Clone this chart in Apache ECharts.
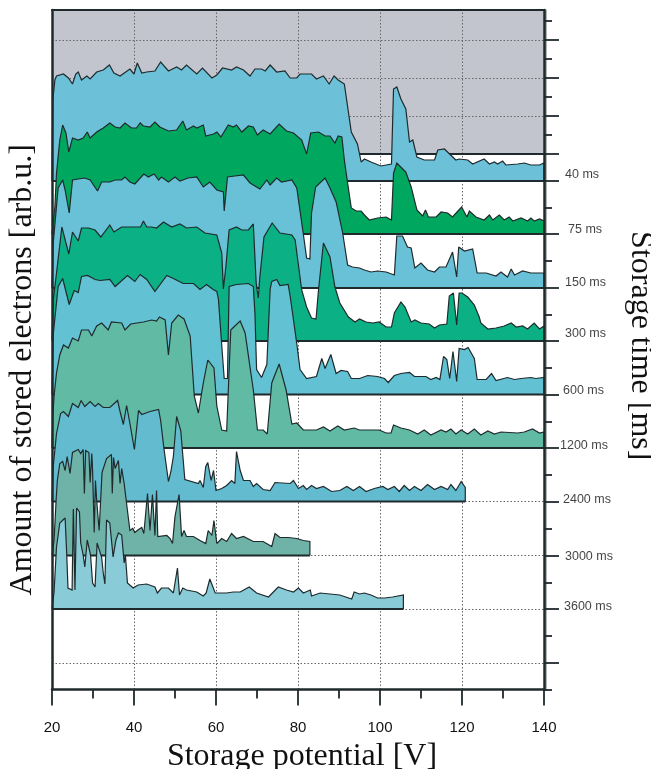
<!DOCTYPE html>
<html><head><meta charset="utf-8">
<style>html,body{margin:0;padding:0;background:#fff}#c{width:651px;height:769px}</style>
<script src="https://cdn.jsdelivr.net/npm/echarts@6/dist/echarts.min.js"></script>
</head><body><div id="c"></div>
<script>
const storageTimes=['40 ms','75 ms','150 ms','300 ms','600 ms','1200 ms','2400 ms','3000 ms','3600 ms'];
const baselines=[508.5,455.5,401.5,348.5,295,241.5,188,134,80.5];
const topOfBackground=535.5;
const majorTicks=[26.5,80.5,134,188,241.5,295,348.5,401.5,455.5,508.5,535.5,573.5,611.5,649.5];
const minorTicks=[0,53.5,107,161,214.5,268,321.5,375,428.5,482,554.5,592.5,630.5,668.5];
const gridY=[26.5,80.5,134,188,573.5,611.5,649.5];
const gridX=[40,60,80,100,120];

const s40=[[20,0],[20.2,81],[20.7,101],[21.1,105],[22.8,107],[24,103],[25,97],[25.8,107],[26.4,109],[27.2,101],[28.5,105],[29.3,102],[30.9,109],[32.5,111],[34,116],[35.1,108],[36.6,105],[39,112],[40,107],[40.8,118],[41.9,108],[43.1,109],[45.1,110],[46.5,119],[48.4,110],[50.4,114],[51.6,111],[52.8,116],[55.3,107],[56.7,113],[59,103],[60.2,106],[61.6,113],[63.8,111],[65,114],[66.7,111],[68.3,105],[69.5,112],[71.1,112],[72,110],[73.2,116],[74.8,109],[76.8,110],[78.1,103],[79.7,103],[80.5,107],[82.1,107],[83.3,107],[84.5,102],[86.2,105],[87.6,97],[88.8,105],[89.8,101],[91.3,97],[93,49],[94.5,37],[95.4,19],[96.2,22],[97.8,19],[100.2,15],[102.8,17],[103.3,92],[104.1,94],[105.1,82],[106.3,72],[107.2,39],[108,41],[109,24],[110.8,21],[113.3,21],[114.1,31],[115.7,32],[118.5,21],[119.3,22],[121.4,21],[122.6,17],[125.4,22],[126.7,17],[127.9,19],[128.7,17],[129.9,20],[130.7,16],[133.6,17],[135.2,18],[136.8,16],[138.9,16],[140,18],[140,0]];
const s75=[[20,0],[20.7,27],[21.1,61],[21.9,94],[22.6,109],[23.4,101],[24.1,82],[25,96],[26.4,94],[27.6,96],[28.6,102],[29.3,96],[30.9,102],[32.5,106],[34.1,111],[35.4,107],[36.6,106],[37.8,111],[39.4,106],[40.6,106],[41.5,111],[42.3,108],[43.9,107],[45.1,112],[46.3,107],[48.4,103],[50.4,104],[51.9,113],[52.8,104],[54.5,108],[55.3,106],[56.9,109],[57.5,98],[59.4,100],[60.2,102],[61.2,97],[63,109],[64.2,107],[65,109],[66.3,102],[67.9,108],[69.1,107],[70.1,99],[71.5,104],[73.2,100],[75.4,110],[77.2,103],[78.9,101],[80.9,94],[82.1,80],[83.1,101],[85,102],[86.6,98],[87.8,98],[89,91],[89.8,98],[90.7,97],[91.3,74],[92.1,51],[93,26],[94.2,23],[95.4,23],[96.2,19],[97.4,14],[99.4,16],[101.5,17],[102.8,14],[103.3,61],[104.1,71],[105.3,66],[106.3,62],[106.7,64],[107.6,47],[109,24],[110.4,18],[111.1,24],[111.8,17],[113.7,17],[114.9,22],[116.5,21],[117.7,17],[118.8,22],[119.9,27],[121.2,17],[121.8,23],[123.4,17],[125.4,14],[126.7,19],[127.5,14],[129.1,19],[130.3,14],[131.5,17],[132.4,13],[134.4,16],[136,13],[136.8,16],[137.6,13],[138.9,15],[140,13],[140,0]];
const s150=[[20,0],[20.3,45],[21.5,100],[22.6,108],[23.2,98],[24.2,75],[25,108],[26.4,109],[28,110],[29.3,108],[31.1,97],[32.1,106],[34.1,106],[35.4,108],[37,108],[37.8,111],[39,106],[40.2,104],[42.4,114],[43.5,111],[44.9,114],[46,108],[46.7,111],[48.4,106],[50,111],[51.2,107],[53.2,110],[55.3,111],[56.9,101],[58.5,106],[60.2,98],[61.8,96],[62,77],[62.8,111],[64.6,112],[66.7,113],[68.3,105],[70.7,99],[72.4,108],[73.2,103],[74.8,110],[76,106],[78.5,108],[79.7,100],[80.1,98],[81.3,54],[82.1,30],[82.9,29],[83.3,75],[84.3,101],[86.6,110],[87.8,100],[89.3,86],[90.9,55],[92.1,23],[93.3,21],[95,20],[96.2,18],[97.8,16],[99.4,17],[101.5,16],[103.5,13],[104.1,52],[105.5,52],[106.7,41],[107.6,40],[108.5,20],[110,25],[111.6,18],[113.3,16],[114.5,21],[116.1,21],[117.7,36],[118.7,11],[119.2,41],[120.6,37],[122.6,39],[123.7,15],[125.9,15],[128.3,12],[129.5,16],[131.1,11],[132,19],[132.8,13],[134.8,17],[136.8,15],[138.9,15],[140,15],[140,0]];
const s300=[[20,0],[20.3,41],[21.1,68],[22.4,114],[24.1,87],[25,109],[26.4,100],[27.2,113],[28.9,113],[30.5,111],[31.9,104],[34.1,116],[35.1,109],[37,114],[38.6,114],[40.2,114],[41.6,114],[42.3,120],[43.1,114],[44.3,114],[45.5,113],[47.2,119],[49.2,114],[51.2,117],[52.8,113],[55.3,114],[57.3,108],[60.2,106],[61.4,88],[61.8,52],[62.4,74],[63.2,111],[65,114],[66.3,111],[67.9,111],[69.1,117],[69.8,58],[70.3,43],[70.7,64],[71.7,104],[73.7,118],[75.6,108],[78.5,106],[79.3,101],[80.9,51],[82.1,34],[83.3,23],[84.4,22],[85,51],[86.2,98],[87.8,84],[89,54],[90.2,38],[92.3,24],[93.9,19],[95,22],[96.6,19],[98.2,18],[99.8,19],[101.5,14],[102.8,14],[103.5,28],[105.1,39],[106.1,34],[107.6,19],[108.5,21],[110,18],[112,17],[113.3,13],[114.5,16],[116.3,17],[116.9,45],[117.9,48],[118.7,16],[119.3,48],[120,48],[121.4,44],[123,36],[124.2,24],[124.6,18],[126.3,12],[128.3,13],[130.3,15],[132,18],[133.2,14],[134.8,15],[136,12],[137.6,18],[138.9,12],[140,15],[140,0]];
const s600=[[20,0],[20.3,60],[21.5,108],[22.6,116],[24.2,90],[25.4,104],[26.4,102],[27.2,118],[28.7,119],[30.5,115],[31.7,114],[34.1,115],[35.4,108],[38.4,119],[40.2,113],[41.5,120],[43.1,115],[45.1,103],[48,119],[49.6,116],[52,111],[54.5,111],[56.1,105],[57.7,110],[59.3,105],[60.2,103],[60.6,95],[61.6,38],[62,16],[62.8,16],[63.2,108],[65,110],[67.9,111],[69.1,108],[69.5,81],[69.9,25],[71.1,17],[72.4,30],[73.2,105],[73.6,113],[74.8,115],[75.6,109],[77.6,110],[78.1,98],[79.7,51],[80.5,25],[82.1,16],[84.5,18],[85.8,36],[86.6,26],[88,40],[89.3,21],[90.5,24],[92.1,23],[93,16],[95,16],[97,19],[99.4,18],[101.1,16],[102,12],[103.5,19],[105.1,21],[107.2,22],[108.4,18],[111.2,18],[112.4,15],[113.7,17],[114.6,15],[115.5,38],[116.3,35],[117,16],[117.8,43],[118.7,13],[119.3,46],[120.6,45],[121.5,47],[123,36],[123.7,15],[125.9,15],[127.2,21],[128.3,14],[131.1,17],[132.8,15],[134.4,16],[136.8,17],[138,16],[140,17],[140,0]];
const s1200=[[20,0],[20.2,32],[20.5,52],[21.1,75],[21.9,93],[22.8,103],[24,100],[25,110],[26.4,107],[27.2,118],[28.9,118],[29.7,112],[30.9,122],[32.1,125],[33.7,118],[34.5,126],[37,125],[37.8,118],[39.2,124],[42.3,126],[44.3,128],[45.5,127],[46.2,131],[47.6,128],[48.4,93],[49.2,125],[50.8,133],[52.2,129],[53.7,112],[54.7,52],[55.7,35],[56.9,65],[58,88],[59.5,80],[60.2,42],[61.4,18],[62.6,17],[63.6,118],[64.6,122],[65.9,127],[67.1,115],[69.1,58],[70.1,18],[71.5,18],[72.5,14],[73.6,65],[75.4,84],[77.1,58],[78.5,24],[79.7,25],[81.3,18],[84.5,18],[86.2,21],[87.8,17],[89.7,22],[91.3,18],[93.7,20],[95,18],[98.2,18],[99.8,18],[101.5,15],[102.7,15],[103.3,23],[105.1,20],[107.2,18],[109.2,14],[110.8,18],[112.4,13],[114.9,18],[116.1,16],[117.3,19],[118.5,14],[119.8,18],[121.4,14],[123,19],[124.6,13],[126.3,17],[127.9,14],[129.5,16],[133.6,15],[135.2,16],[137.2,19],[138.9,15],[140,16],[140,0]];
const s2400=[[20,0],[20.3,35],[21.1,68],[22.1,88],[22.8,90],[24,85],[25,98],[26.4,94],[27.1,101],[28,95],[29.3,100],[30.5,95],[31.3,98],[32.5,94],[34.1,94],[36,101],[36.6,90],[37.4,77],[38.2,96],[39,78],[40.1,52],[41.1,91],[41.9,87],[43.9,90],[46,92],[46.5,81],[47.3,53],[48.4,20],[49,30],[49.6,45],[50.4,85],[51.4,71],[52.4,22],[55.7,18],[56.1,21],[56.9,14],[57.5,35],[58,39],[58.8,21],[59.4,31],[60,11],[61.4,13],[62.6,16],[63.8,21],[64.6,18],[65,50],[65.9,31],[66.7,21],[68.3,21],[69.1,15],[69.9,18],[71.5,12],[73.2,11],[74.4,19],[78.1,18],[78.9,21],[80.1,13],[81.3,16],[82.1,12],[83.3,16],[84.5,13],[86.2,15],[88.2,10],[90.2,11],[91.9,15],[93.5,11],[95,15],[96.6,10],[98.6,13],[100.7,15],[101.9,12],[103.5,15],[104.7,10],[105.9,16],[107.2,11],[108.4,15],[110,11],[111.6,17],[113.3,12],[114.9,15],[116.5,12],[117.3,17],[118.5,11],[119.8,20],[120.8,14],[120.8,0]];
const s3000=[[20,0],[20.5,15],[21,55],[21.3,75],[21.9,92],[22.6,94],[23.2,85],[23.7,99],[24.4,82],[25,103],[26.4,106],[27,102],[27.6,106],[27.9,62],[28.2,105],[29,103],[29.3,73],[29.7,102],[29.9,85],[30.3,23],[30.6,75],[30.9,55],[31.5,25],[31.9,25],[32.2,83],[33.3,97],[34.5,101],[34.7,62],[35,98],[35.4,87],[36.2,95],[36.6,72],[37,87],[37.6,72],[38.4,45],[39,25],[39.7,27],[40.2,23],[41.1,26],[41.9,28],[42.4,22],[43.3,62],[43.9,25],[44.5,61],[45.1,20],[45.5,65],[45.8,19],[48,20],[48.8,17],[49.4,12],[50,39],[51,61],[51.6,19],[52.2,25],[52.8,19],[54.5,19],[56.1,15],[57.5,12],[58.1,25],[59,20],[59.5,35],[60.2,12],[61.4,17],[62.6,14],[63.8,22],[65,17],[66.7,19],[69.1,14],[71.5,14],[73.6,9],[74.4,22],[75.6,18],[77.6,18],[79.7,17],[81.3,15],[82.9,14],[82.9,0]];
const s3600=[[20,0],[20.5,17],[21.1,62],[21.9,86],[23.2,91],[23.6,54],[23.9,21],[24.9,19],[25.2,100],[25.6,19],[26,101],[26.7,97],[27,66],[27.6,54],[28,42],[28.6,69],[29.4,54],[29.9,26],[30.5,22],[31,66],[32.1,52],[32.5,36],[32.9,25],[33.3,89],[34.1,86],[34.9,52],[35.6,69],[36.2,76],[37,74],[37.6,46],[37.9,54],[38.4,26],[39.8,21],[41,24],[43.1,25],[45.1,22],[45.7,16],[46.7,21],[48.4,21],[49.6,16],[50,14],[50.6,41],[51.1,14],[51.9,21],[52.8,19],[55.3,17],[56.9,13],[57.6,16],[58.5,30],[59.8,16],[62.6,16],[64.2,17],[65.9,17],[68.1,22],[69.9,16],[72.8,12],[75.2,22],[77.2,19],[78.9,17],[80.1,21],[81.3,16],[83,19],[83.3,13],[85.4,16],[87.8,15],[90.2,14],[93.1,10],[93.7,17],[95,15],[96.2,16],[97.8,14],[99.4,11],[101.1,11],[103.1,12],[105.7,14],[105.7,0]];

const seriesValues=[s40,s75,s150,s300,s600,s1200,s2400,s3000,s3600];
const fillColors=['#6cc1d8','#00a85f','#69c1d8','#0cb085','#62c1d3','#61bba4','#63bbd0','#6fb3a8','#8acbd8'];
const labelNudgeY=[6,4.5,5,7,3.5,2,2,-1,2];
const labelNudgeX=[21,24,21,21,19,16,19,21,20];

const Y_MAX=679.5;
const dark='#1f2a2c';
const dotted={color:'#666',type:[1.5,2],width:1};

const areaSeries=[];
seriesValues.forEach((vals,i)=>{
  const base=baselines[i];
  const pts=vals.map(p=>[p[0],base+p[1]]);
  areaSeries.push({name:storageTimes[i],type:'line',data:pts,symbol:'none',z:2+i,animation:false,silent:true,
    lineStyle:{color:dark,width:1.2,join:'miter',miterLimit:2},
    areaStyle:{color:fillColors[i],opacity:1,origin:base}});
  areaSeries.push({type:'line',data:[[20,base],[vals[vals.length-1][0],base]],symbol:'none',z:2+i,animation:false,silent:true,
    lineStyle:{color:dark,width:1.8}});
});
const backdrop={type:'line',data:[],silent:true,z:1,
  markArea:{silent:true,z:0,itemStyle:{color:'#c2c5cd'},data:[[{yAxis:topOfBackground},{yAxis:Y_MAX}]]},
  markLine:{silent:true,z:1,symbol:'none',label:{show:false},lineStyle:dotted,animation:false,
    data:gridY.map(v=>({yAxis:v})).concat(gridX.map(v=>({xAxis:v})))}};
const topLine={type:'line',data:[[20,topOfBackground],[140,topOfBackground]],symbol:'none',z:1,silent:true,
  lineStyle:{color:dark,width:1.8}};
const labels={type:'scatter',symbolSize:0,silent:true,z:16,clip:false,animation:false,
  data:storageTimes.map((t,i)=>({value:[140,baselines[i]+labelNudgeY[i]],
    label:{show:true,formatter:t,position:'right',distance:labelNudgeX[i],color:'#111',
      fontFamily:'Liberation Sans',fontSize:12.5}}))};

const chart=echarts.init(document.getElementById('c'),null,{renderer:'canvas'});
const axisDark={lineStyle:{color:dark,width:2.5}};
const serif='Liberation Serif';
chart.setOption({
  animation:false,backgroundColor:'#fff',
  grid:{left:52,right:107,top:10,height:Y_MAX,outerBoundsMode:'none'},
  xAxis:[
    {type:'value',min:20,max:140,interval:20,position:'bottom',z:20,
     axisLine:{show:true,onZero:false,...axisDark},
     axisTick:{show:true,length:16,lineStyle:{color:dark,width:1.8}},
     minorTick:{show:true,splitNumber:2,length:9,lineStyle:{color:dark,width:1.8}},
     splitLine:{show:false},minorSplitLine:{show:false},
     axisLabel:{margin:31,color:'#111',fontFamily:'Liberation Sans',fontSize:15},
     name:'Storage potential [V]',nameLocation:'middle',nameGap:41,
     nameTextStyle:{fontFamily:serif,fontSize:32,color:'#111',padding:[0,0,0,8]}},
    {type:'value',min:20,max:140,position:'top',z:20,
     axisLine:{show:true,onZero:false,lineStyle:{color:dark,width:2}},
     axisTick:{show:false},axisLabel:{show:false},splitLine:{show:false}}
  ],
  yAxis:[
    {type:'value',min:0,max:Y_MAX,position:'left',z:20,
     axisLine:{show:true,onZero:false,...axisDark},axisTick:{show:false},axisLabel:{show:false},splitLine:{show:false},
     name:'Amount of stored electrons [arb.u.]',nameLocation:'middle',nameGap:13,nameRotate:90,
     nameTextStyle:{fontFamily:serif,fontSize:32,color:'#111',padding:[0,40,0,0]}},
    {type:'value',min:0,max:Y_MAX,position:'right',z:20,
     axisLine:{show:true,onZero:false,...axisDark},
     axisTick:{show:true,length:15,lineStyle:{color:dark,width:1.8},customValues:majorTicks},
     axisLabel:{show:false},splitLine:{show:false},
     name:'Storage time [ms]',nameLocation:'middle',nameGap:80,nameRotate:-90,
     nameTextStyle:{fontFamily:serif,fontSize:32,color:'#111',padding:[0,8,0,0]}},
    {type:'value',min:0,max:Y_MAX,position:'right',z:20,
     axisLine:{show:false,onZero:false},
     axisTick:{show:true,length:8,lineStyle:{color:dark,width:1.8},customValues:minorTicks},
     axisLabel:{show:false},splitLine:{show:false}},
    {type:'value',min:0,max:Y_MAX,position:'right',offset:2,z:19,
     axisLine:{show:true,onZero:false,lineStyle:{color:'#999',width:1.5}},
     axisTick:{show:false},axisLabel:{show:false},splitLine:{show:false}}
  ],
  series:[backdrop,topLine].concat(areaSeries).concat([labels])
});
</script></body></html>
